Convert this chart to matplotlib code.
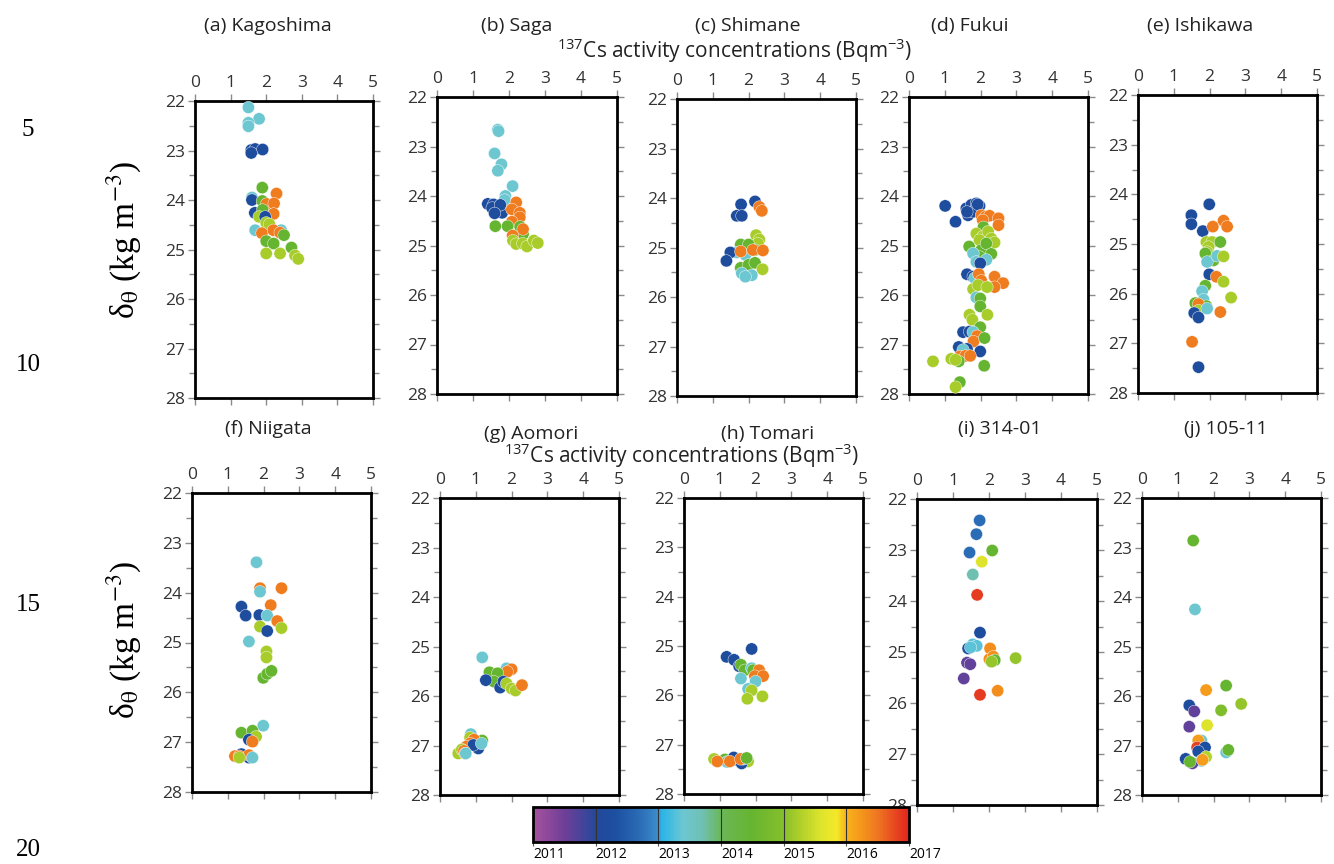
import matplotlib
matplotlib.use('Agg')
import matplotlib.pyplot as plt
import numpy as np
from matplotlib.colors import LinearSegmentedColormap, Normalize
from matplotlib.colorbar import ColorbarBase

plt.rcParams['font.family'] = ['Open Sans', 'DejaVu Sans']
plt.rcParams['mathtext.fontset'] = 'custom'
plt.rcParams['mathtext.rm'] = 'Open Sans'
plt.rcParams['mathtext.it'] = 'Open Sans:italic'

# ---- data: 137Cs (Bq m-3), sigma-theta (kg m-3), sampling year ----
kago_x = [1.50, 1.80, 1.50, 1.50, 1.58, 1.69, 1.90, 1.58, 1.89, 2.29, 1.60, 1.60, 1.89, 2.01, 2.22,
          1.68, 1.90, 2.21, 1.80, 1.97, 2.00, 2.09, 1.69, 2.42, 1.88, 2.20, 2.39, 2.50, 2.00, 2.21,
          2.71, 2.00, 2.39, 2.81, 2.90]
kago_y = [22.13, 22.36, 22.44, 22.51, 22.99, 22.97, 22.98, 23.05, 23.75, 23.87, 23.95, 24.00, 24.02,
          24.08, 24.07, 24.26, 24.20, 24.28, 24.34, 24.34, 24.46, 24.49, 24.61, 24.61, 24.67, 24.61,
          24.66, 24.71, 24.83, 24.88, 24.96, 25.08, 25.08, 25.12, 25.19]
kago_t = [2013.4, 2013.4, 2013.4, 2013.4, 2012.2, 2012.2, 2012.2, 2012.2, 2014.5, 2016.45, 2013.4,
          2012.2, 2014.5, 2016.45, 2016.45, 2012.2, 2014.5, 2016.45, 2015.2, 2012.2, 2015.2, 2015.2,
          2013.4, 2013.4, 2016.45, 2016.45, 2016.45, 2014.5, 2014.5, 2014.5, 2014.5, 2015.2, 2015.2,
          2015.2, 2015.2]

saga_x = [1.69, 1.71, 1.60, 1.79, 1.69, 2.10, 1.90, 1.88, 1.41, 1.57, 1.69, 1.81, 1.53, 1.76, 1.60,
          2.20, 2.08, 2.30, 2.30, 2.08, 1.62, 1.96, 2.31, 2.39, 2.39, 2.10, 2.11, 2.20, 2.38, 2.50,
          2.69, 2.80]
saga_y = [22.66, 22.69, 23.14, 23.36, 23.49, 23.80, 24.00, 24.08, 24.16, 24.17, 24.23, 24.34, 24.24,
          24.18, 24.35, 24.13, 24.27, 24.34, 24.43, 24.52, 24.61, 24.61, 24.62, 24.77, 24.67, 24.80,
          24.90, 24.97, 24.96, 25.02, 24.90, 24.95]
saga_t = [2013.4] * 8 + [2012.2] * 7 + [2016.45] * 5 + [2014.5] * 4 + [2016.45] * 2 + [2015.2] * 6

shim_x = [1.79, 2.18, 1.67, 1.81, 2.30, 2.37, 2.21, 2.30, 2.26, 1.78, 2.00, 2.18, 1.67, 1.91, 1.49,
          1.38, 1.78, 2.12, 2.40, 1.78, 2.00, 2.18, 2.39, 1.81, 2.09, 1.91]
shim_y = [24.13, 24.07, 24.36, 24.36, 24.18, 24.26, 24.75, 24.84, 24.92, 24.94, 24.94, 25.05, 25.10,
          25.15, 25.10, 25.27, 25.08, 25.05, 25.06, 25.41, 25.35, 25.31, 25.44, 25.52, 25.56, 25.59]
shim_t = [2012.2] * 4 + [2016.45] * 2 + [2015.2] * 3 + [2014.5] * 3 + [2013.4] * 2 + [2012.2] * 2 + \
         [2016.45] * 3 + [2014.5] * 3 + [2015.2] + [2013.4] * 3

fuku_x = [1.01, 1.30, 1.60, 1.74, 1.88, 1.97, 1.65, 1.79, 1.62, 1.92, 2.02, 2.14, 2.25, 2.06, 2.50,
          2.50, 2.08, 1.88, 2.06, 2.21, 1.97, 2.30, 2.39, 1.68, 2.02, 2.16, 2.30, 1.97, 1.79, 1.88,
          2.16, 1.99, 1.62, 1.79, 1.84, 1.95, 2.02, 2.39, 2.63, 2.39, 1.79, 1.93, 2.18, 1.88, 1.99,
          1.99, 1.69, 1.77, 2.19, 1.99, 1.51, 1.69, 1.79, 1.90, 1.80, 2.11, 1.39, 1.62, 1.51, 1.99,
          1.42, 1.58, 1.71, 1.39, 0.67, 1.18, 1.30, 2.10, 1.42, 1.30]
fuku_y = [24.20, 24.52, 24.25, 24.18, 24.15, 24.20, 24.39, 24.32, 24.32, 24.17, 24.39, 24.42, 24.40,
          24.49, 24.45, 24.59, 24.63, 24.76, 24.82, 24.72, 24.89, 24.86, 24.94, 25.02, 25.09, 24.96,
          25.17, 25.23, 25.16, 25.33, 25.29, 25.36, 25.58, 25.63, 25.66, 25.58, 25.71, 25.63, 25.76,
          25.84, 25.88, 25.80, 25.84, 26.05, 26.07, 26.23, 26.40, 26.50, 26.40, 26.65, 26.75, 26.74,
          26.75, 26.83, 26.94, 26.87, 27.05, 27.09, 27.11, 27.14, 27.24, 27.23, 27.23, 27.34, 27.34,
          27.29, 27.31, 27.43, 27.76, 27.86]
fuku_t = [2012.2] * 10 + [2016.45] * 6 + [2014.5] + [2015.2] * 6 + [2014.5] * 5 + [2013.4] * 3 + \
         [2012.2] * 3 + [2013.4] + [2016.45] * 5 + [2015.2] * 3 + [2013.4] + [2014.5] * 2 + \
         [2015.2] * 3 + [2014.5] + [2012.2] * 2 + [2013.4] + [2016.45] * 2 + [2014.5] + \
         [2012.2] * 2 + [2013.4] + [2012.2] + [2016.45] * 3 + [2014.5] + [2015.2] * 3 + \
         [2014.5] * 2 + [2015.2]

ishi_x = [1.99, 1.49, 1.49, 1.81, 2.09, 2.39, 2.49, 1.91, 2.07, 1.97, 1.93, 2.30, 1.88, 2.11, 1.93,
          2.21, 2.39, 1.99, 2.19, 2.39, 1.88, 1.79, 2.60, 1.83, 1.60, 1.91, 1.69, 1.69, 1.93, 2.30,
          1.57, 1.69, 1.51, 1.69]
ishi_y = [24.20, 24.42, 24.60, 24.74, 24.65, 24.53, 24.65, 24.96, 24.96, 25.06, 25.16, 24.96, 25.19,
          25.33, 25.36, 25.24, 25.25, 25.61, 25.66, 25.76, 25.84, 25.95, 26.08, 26.12, 26.19, 26.25,
          26.21, 26.34, 26.30, 26.37, 26.39, 26.48, 26.97, 27.48]
ishi_t = [2012.2] * 4 + [2016.45] * 3 + [2015.2] * 4 + [2014.5] * 3 + [2013.4] * 2 + [2015.2] + \
         [2012.2] + [2016.45] + [2015.2] + [2014.5] + [2013.4] + [2015.2] + [2013.4] + \
         [2014.5] * 2 + [2016.45] + [2015.2] + [2013.4] + [2016.45] + [2012.2] * 2 + \
         [2016.45] + [2012.2]

niig_x = [1.80, 1.90, 2.50, 1.90, 2.20, 1.38, 1.50, 1.88, 2.10, 2.38, 1.90, 2.50, 2.10, 1.59, 2.08,
          2.08, 1.99, 2.10, 2.22, 1.99, 1.38, 1.69, 1.79, 1.59, 1.69, 1.38, 1.59, 1.20, 1.32, 1.59,
          1.32, 1.69]
niig_y = [23.39, 23.91, 23.91, 23.98, 24.25, 24.28, 24.46, 24.45, 24.46, 24.57, 24.68, 24.71, 24.77,
          24.98, 25.18, 25.30, 25.71, 25.63, 25.57, 26.67, 26.81, 26.77, 26.89, 26.95, 26.99, 27.24,
          27.31, 27.28, 27.28, 27.26, 27.31, 27.31]
niig_t = [2013.4, 2016.45, 2016.45, 2013.4, 2016.45, 2012.2, 2012.2, 2012.2, 2013.4, 2016.45,
          2015.2, 2015.2, 2012.2, 2013.4, 2015.2, 2015.2, 2014.5, 2014.5, 2014.5, 2013.4, 2014.5,
          2014.5, 2015.2, 2012.2, 2016.45, 2012.2, 2012.2, 2016.45, 2016.45, 2016.45, 2015.2, 2013.4]

aomo_x = [1.18, 1.86, 2.00, 1.88, 1.38, 1.61, 1.51, 1.28, 1.68, 1.77, 1.86, 2.00, 2.11, 2.29, 0.86,
          1.18, 0.84, 0.95, 0.84, 0.74, 1.07, 0.93, 1.16, 0.51, 0.61, 0.67, 0.70, 0.72]
aomo_y = [25.22, 25.44, 25.46, 25.51, 25.52, 25.54, 25.71, 25.68, 25.83, 25.71, 25.75, 25.85, 25.89,
          25.78, 26.77, 26.90, 26.84, 26.88, 26.96, 27.02, 27.06, 26.99, 26.96, 27.16, 27.08, 27.11,
          27.16, 27.16]
aomo_t = [2013.4, 2013.4, 2016.45, 2016.45, 2014.5, 2014.5, 2014.5, 2012.2, 2012.2, 2012.2, 2015.2,
          2015.2, 2015.2, 2016.45, 2013.4, 2014.5, 2015.2, 2016.45, 2016.45, 2016.45, 2012.2, 2012.2,
          2013.4, 2015.2, 2015.2, 2016.45, 2016.45, 2013.4]

toma_x = [1.89, 1.19, 1.40, 1.54, 1.59, 1.70, 1.89, 1.59, 1.93, 2.10, 1.98, 2.21, 2.00, 1.79, 1.89,
          1.77, 2.19, 0.84, 1.79, 1.14, 1.46, 1.39, 1.61, 1.20, 1.65, 0.93, 1.28, 1.58, 1.75]
toma_y = [25.06, 25.22, 25.28, 25.41, 25.38, 25.49, 25.45, 25.66, 25.49, 25.49, 25.61, 25.61, 25.72,
          25.87, 25.90, 26.07, 26.02, 27.29, 27.34, 27.30, 27.31, 27.26, 27.38, 27.35, 27.29, 27.34,
          27.34, 27.29, 27.27]
toma_t = [2012.2] * 4 + [2014.5] * 2 + [2013.4] * 2 + [2014.5] + [2016.45] * 3 + [2013.4] * 2 + \
         [2015.2] * 5 + [2014.5] * 2 + [2012.2] * 2 + [2013.4] * 2 + [2016.45] * 3 + [2014.5]

s314_x = [1.74, 1.65, 1.46, 2.09, 1.80, 1.55, 1.67, 1.75, 1.42, 1.55, 1.66, 1.49, 2.03, 2.01, 2.12,
          2.16, 2.07, 2.74, 1.39, 1.48, 1.30, 2.24, 1.75]
s314_y = [22.42, 22.69, 23.05, 23.01, 23.23, 23.48, 23.88, 24.62, 24.93, 24.85, 24.88, 24.91, 24.93,
          25.14, 25.09, 25.16, 25.19, 25.12, 25.21, 25.24, 25.52, 25.76, 25.84]
s314_t = [2012.7, 2012.7, 2012.7, 2014.5, 2015.6, 2013.7, 2016.85, 2012.2, 2012.2, 2013.3, 2013.3,
          2013.3, 2016.3, 2016.3, 2016.3, 2014.5, 2015.1, 2015.1, 2011.6, 2011.6, 2011.6, 2016.3,
          2016.85]

s105_x = [1.43, 1.48, 2.35, 1.79, 2.77, 1.32, 1.46, 2.21, 1.82, 1.32, 1.66, 1.57, 1.54, 1.76, 1.57,
          2.35, 2.41, 1.79, 1.22, 1.66, 1.41, 1.34, 1.69]
s105_y = [22.86, 24.25, 25.79, 25.88, 26.16, 26.19, 26.31, 26.29, 26.59, 26.62, 26.90, 26.90, 27.04,
          27.04, 27.12, 27.14, 27.09, 27.23, 27.27, 27.31, 27.36, 27.33, 27.29]
s105_t = [2014.5, 2013.4, 2014.5, 2016.2, 2015.1, 2012.2, 2011.6, 2014.9, 2015.6, 2011.6, 2013.5,
          2016.2, 2016.8, 2012.3, 2012.3, 2013.4, 2014.5, 2015.3, 2012.2, 2013.4, 2011.6, 2014.5,
          2016.2]

titles = ['(a) Kagoshima', '(b) Saga', '(c) Shimane', '(d) Fukui', '(e) Ishikawa',
          '(f) Niigata', '(g) Aomori', '(h) Tomari', '(i) 314-01', '(j) 105-11']
years = [2011, 2012, 2013, 2014, 2015, 2016, 2017]

panels = [(kago_x, kago_y, kago_t), (saga_x, saga_y, saga_t), (shim_x, shim_y, shim_t),
          (fuku_x, fuku_y, fuku_t), (ishi_x, ishi_y, ishi_t), (niig_x, niig_y, niig_t),
          (aomo_x, aomo_y, aomo_t), (toma_x, toma_y, toma_t), (s314_x, s314_y, s314_t),
          (s105_x, s105_y, s105_t)]

# ---- layout (pixel boxes: left, top, right, bottom) ----
W, H = 1334, 864
boxes = [(195, 101, 373, 398), (437, 97, 617, 394), (677, 99, 856, 396), (909, 97, 1088, 394),
         (1138, 95, 1317, 393), (192, 493, 371, 792), (440, 498, 619, 795), (684, 498, 863, 794),
         (917, 499, 1097, 805), (1142, 498, 1321, 795)]
title_pos = [(268, 26), (517, 26), (748, 26), (970, 26), (1200, 26),
             (268, 429), (531, 434), (768, 434), (1000, 429), (1226, 429)]

# ---- colour scale ----
anchors = [(0.0, '#a5519e'), (0.5, '#6e3f98'), (1.0, '#24489b'), (1.3, '#1c4fa0'),
           (1.7, '#2b6cb6'), (1.98, '#3b8ccb'), (2.05, '#2ab5e8'), (2.4, '#6dc7d1'),
           (2.7, '#6fc0b3'), (3.0, '#6bb757'), (3.5, '#66b530'), (4.0, '#86bf2c'),
           (4.2, '#a6cb2a'), (4.6, '#dde42c'), (4.85, '#f5e82a'), (5.0, '#f8b41b'),
           (5.3, '#f3901d'), (5.5, '#ef7721'), (6.0, '#e1241f')]
cmap = LinearSegmentedColormap.from_list('yrs', [(a / 6, c) for a, c in anchors])
norm = Normalize(2011, 2017)

fig = plt.figure(figsize=(W / 100, H / 100), dpi=100)

for (x, y, t), (l, tp, r, b), title, (tx, ty) in zip(panels, boxes, titles, title_pos):
    ax = fig.add_axes([l / W, 1 - b / H, (r - l) / W, (b - tp) / H])
    ax.scatter(x, y, c=t, cmap=cmap, norm=norm, s=78, edgecolors='white', linewidths=0.3, zorder=3)
    ax.set_xlim(0, 5)
    ax.set_ylim(28, 22)
    ax.set_xticks(range(6))
    ax.set_yticks(range(22, 29))
    ax.set_yticks(np.arange(22.5, 28, 1), minor=True)
    ax.tick_params(axis='both', which='both', direction='out', color='#8a8a8a', width=1,
                   top=True, bottom=True, left=True, right=True,
                   labeltop=True, labelbottom=False, labelleft=True, labelright=False,
                   labelsize=12.5, labelcolor='#333333', pad=2)
    ax.tick_params(which='major', length=5)
    ax.tick_params(which='minor', length=4)
    for sp in ax.spines.values():
        sp.set_linewidth(2)
    fig.text(tx / W, 1 - ty / H, title, ha='center', va='center', fontsize=14, color='#222222')

xlab = r'$^{137}$Cs activity concentrations (Bqm$^{-3}$)'
fig.text(735 / W, 1 - 51 / H, xlab, ha='center', va='center', fontsize=15, color='#222222')
fig.text(682 / W, 1 - 456 / H, xlab, ha='center', va='center', fontsize=15, color='#222222')

ylab = r'δ$_\mathrm{θ}$ (kg m$^{-3}$)'
for yc in (240, 640):
    fig.text(124 / W, 1 - yc / H, ylab, rotation=90, ha='center', va='center', fontsize=24,
             family='Liberation Serif', math_fontfamily='stix')

# manuscript line numbers
for num, yc in zip(['5', '10', '15', '20'], [130, 365, 605, 850]):
    fig.text(28 / W, 1 - yc / H, num, ha='center', va='center', fontsize=18,
             family='Liberation Serif')

# colour bar
cax = fig.add_axes([533 / W, 1 - 842 / H, 376 / W, 35 / H])
cb = ColorbarBase(cax, cmap=cmap, norm=norm, orientation='horizontal', ticks=years)
cb.set_ticklabels([str(v) for v in years])
cb.outline.set_linewidth(2)
for v in years[1:-1]:
    cax.axvline(v, color='#333333', lw=0.8)
cax.tick_params(labelsize=10, length=3, color='#555555', pad=0.5)
for lab in cax.get_xticklabels():
    lab.set_horizontalalignment('left')

fig.savefig('out.png', dpi=100)
